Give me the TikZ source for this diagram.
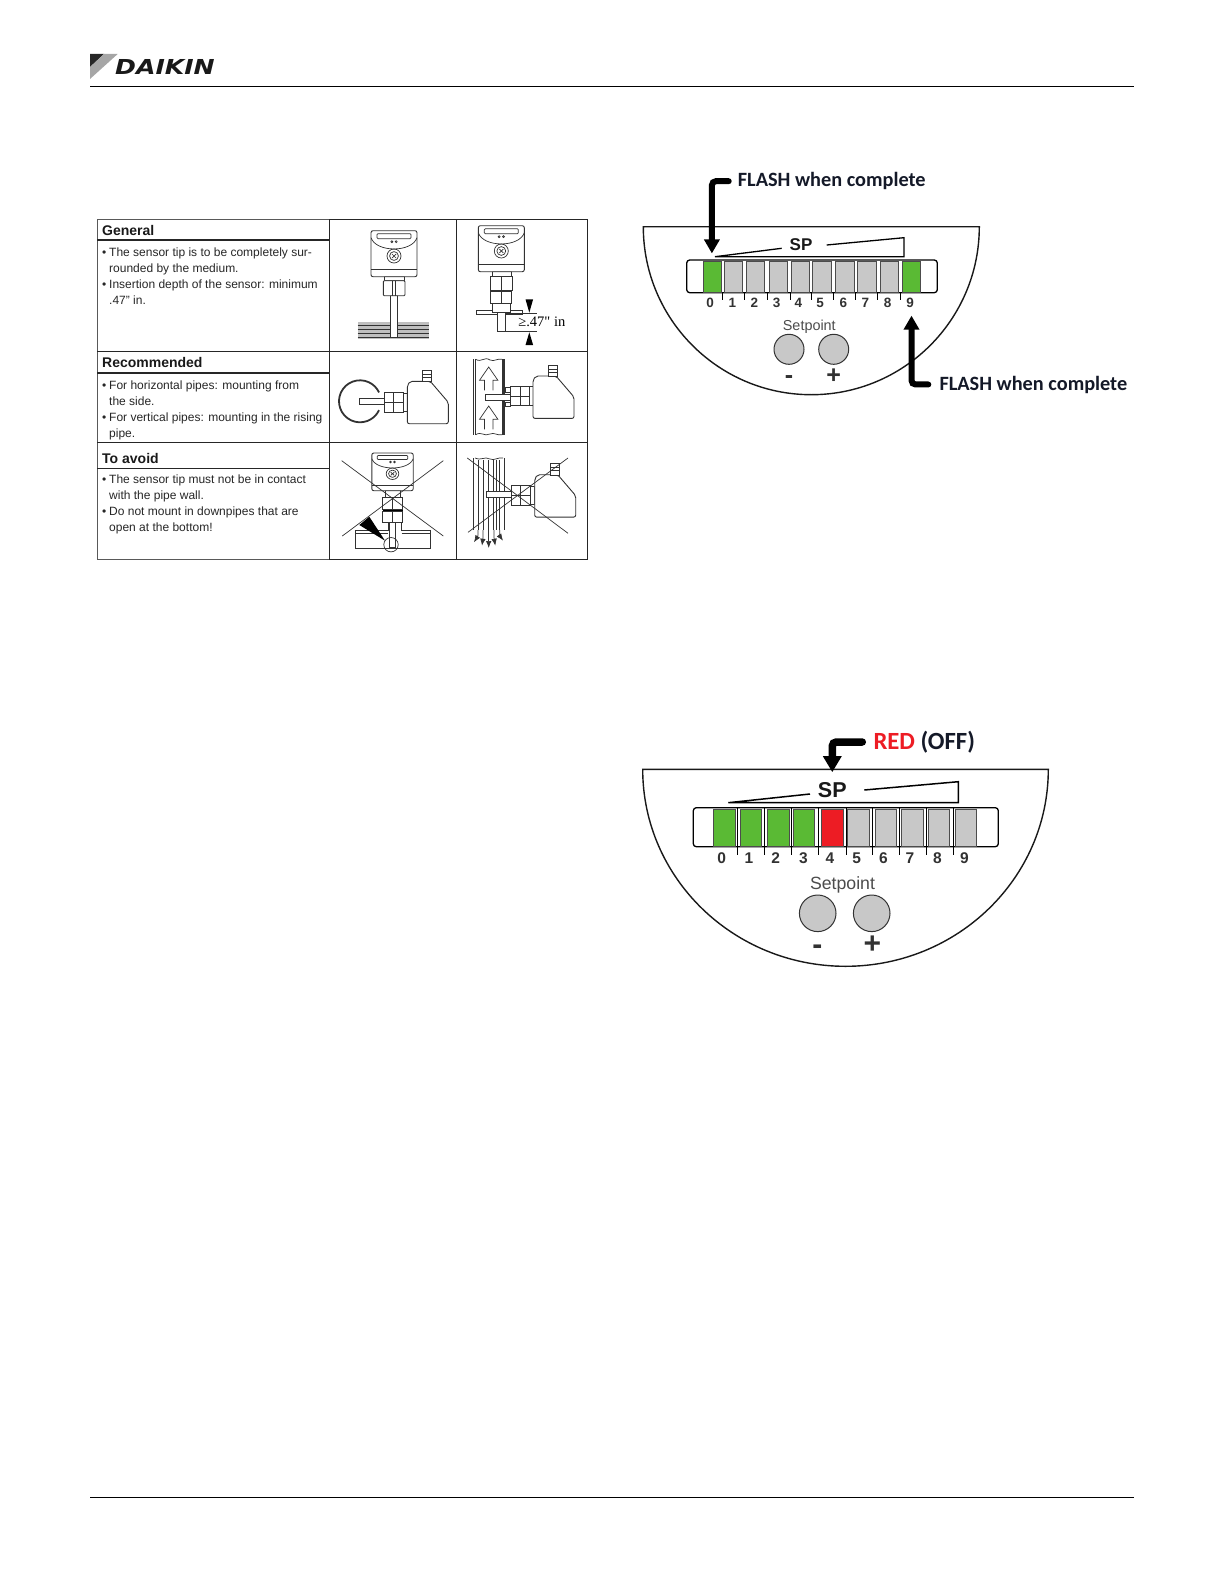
\documentclass[tikz,border=0pt]{standalone}
\usepackage{fontspec}
\setmainfont{Liberation Sans}
\newfontfamily\calfont{Carlito}
\newfontfamily\serfont{Liberation Serif}
\newfontfamily\logofont{DejaVu Sans}
\usetikzlibrary{arrows.meta,positioning}
\definecolor{lampgreen}{RGB}{90,186,52}
\definecolor{lampgray}{RGB}{200,200,200}
\definecolor{lampred}{RGB}{237,28,36}
\definecolor{inkgray}{RGB}{50,50,50}
\definecolor{offnavy}{RGB}{20,25,40}
\newcommand{\bul}{\makebox[7pt][l]{\textbullet}}
\newcommand{\cont}{\hspace*{7pt}}

\begin{document}
\begin{tikzpicture}[
  x=1pt, y=-1pt,
  font=\sffamily,
  rule/.style={draw=black, line width=0.8pt},
  grid/.style={draw=black!85, line width=1.2pt},
  part/.style={draw=inkgray, line width=0.9pt, fill=white},
  thinpart/.style={draw=inkgray, line width=0.7pt},
  crossline/.style={draw=inkgray, line width=0.7pt},
  title/.style={font=\fontsize{14}{16}\selectfont\bfseries, text=black!90, inner sep=0pt, anchor=base west},
  body/.style={font=\fontsize{12}{16}\selectfont, text=black!85, align=left, inner sep=0pt, anchor=north west},
  lampA/.style={draw=black!70, line width=0.4pt, minimum width=18.3pt, minimum height=30.3pt, inner sep=0pt},
  lampB/.style={draw=black!70, line width=0.4pt, minimum width=21.5pt, minimum height=36.7pt, inner sep=0pt},
  digitA/.style={font=\fontsize{13.5}{14}\selectfont\bfseries, text=inkgray, inner sep=0pt},
  digitB/.style={font=\fontsize{15.5}{16}\selectfont\bfseries, text=inkgray, inner sep=0pt},
  bar/.style={draw=black, line width=1.3pt, rounded corners=3pt, fill=white},
  tick/.style={draw=black, line width=1pt},
  face/.style={draw=black!90, line width=1.4pt, fill=white},
  btn/.style={circle, draw=black!80, line width=1pt, fill=lampgray, inner sep=0pt},
  callout/.style={draw=black, line width=6pt, line cap=round, rounded corners=4pt, -{Triangle[length=14pt,width=15pt]}},
  note/.style={font=\calfont\bfseries\fontsize{20.3}{24}\selectfont, text=offnavy, inner sep=0pt, anchor=base west},
  head/.pic={
    \draw[part, rounded corners=2pt] (-23,0) rectangle (23,46);
    \draw[thinpart] (-23,7) .. controls (-18,22) and (18,22) .. (23,7);
    \draw[thinpart] (-23,39) -- (23,39);
    \draw[thinpart, rounded corners=1pt] (-17,3) rectangle (17,8);
    \draw[thinpart] (-2.2,11) circle[radius=1] (2.2,11) circle[radius=1];
    \draw[thinpart] (0,25.3) circle[radius=7] (0,25.3) circle[radius=4.4];
    \draw[thinpart] (-2,23.3) -- (2,27.3) (2,23.3) -- (-2,27.3);
  },
  unit/.pic={
    \draw[part, rounded corners=2pt] (0,4) -- (3,0) -- (23,0) -- (41,21) -- (41,42.4) -- (0,42.4) -- cycle;
    \draw[part] (15.5,-11) rectangle (24.5,0.5);
    \draw[thinpart] (15.5,-7) -- (24.5,-7) (15.5,-4) -- (24.5,-4);
  },
  fitting/.pic={
    \draw[part] (19,0.5) rectangle (23,19);
    \draw[part] (0,0) rectangle (19,19.5);
    \draw[thinpart] (9.5,0) -- (9.5,19.5) (0,9.7) -- (19,9.7);
  },
  flowup/.pic={
    \draw[thinpart] (-4.2,23.3) -- (-4.2,13.3) -- (-9.2,13.3) -- (0,0) -- (9.2,13.3) -- (4.2,13.3) -- (4.2,23.3);
  }
]
\useasboundingbox (0,0) rectangle (1224,1584);

% Header and footer
\fill[black!85] (90,54) -- (104,54) -- (90,67) -- cycle;
\fill[black!35] (104,54) -- (117.7,54) -- (90,79) -- (90,67) -- cycle;
\node[font=\logofont\fontsize{20.6}{24}\selectfont\bfseries\itshape, text=black!90, inner sep=0pt, anchor=base west, xscale=1.22] (brand) at (115,74.5) {DAIKIN};
\draw[rule] (90,86) -- (1134,86);
\draw[rule] (90,1497) -- (1134,1497);

% Table frame
\draw[grid, draw=black!65, line width=1pt] (97,219.3) rectangle (329.3,559.3);
\draw[grid] (329.3,219.3) -- (587.7,219.3) -- (587.7,559.3) -- (329.3,559.3) -- cycle;
\draw[grid] (456.7,219.3) -- (456.7,559.3);
\draw[grid] (97,351.7) -- (587.7,351.7);
\draw[grid] (97,442.7) -- (587.7,442.7);
\draw[grid] (97,240) -- (329.3,240);
\draw[grid] (97,373) -- (329.3,373);
\draw[grid, line width=0.8pt] (97,468) -- (329.3,468);

% Table text
\node[title] (general) at (102,235) {General};
\node[body] (generaltext) at (102,248) {\bul The sensor tip is to be completely sur-\\\cont rounded by the medium.\\\bul Insertion depth of the sensor: minimum\\\cont .47" in.};
\node[title] (recommended) at (102,367.7) {Recommended};
\node[body] (recommendedtext) at (102,381) {\bul For horizontal pipes: mounting from\\\cont the side.\\\bul For vertical pipes: mounting in the rising\\\cont pipe.};
\node[title] (avoid) at (102,463) {To avoid};
\node[body] (avoidtext) at (102,475) {\bul The sensor tip must not be in contact\\\cont with the pipe wall.\\\bul Do not mount in downpipes that are\\\cont open at the bottom!};

% General: sensor in medium
\fill[black!25] (357.7,321.7) rectangle (429,339.3);
\draw[thinpart, line width=0.8pt] (357.7,325.7) -- (429,325.7) (357.7,329) -- (429,329) (357.7,333.3) -- (429,333.3) (357.7,337.7) -- (429,337.7);
\draw[part] (390.7,295.7) rectangle (397.3,337.3);
\draw[part] (384,276.7) rectangle (404,280.7);
\draw[part, rounded corners=1pt] (383.3,280.7) rectangle (405,295.7);
\draw[thinpart] (392.5,280.7) -- (392.5,295.7) (395.5,280.7) -- (395.5,295.7);
\pic at (394,230.7) {head};

% General: insertion depth
\draw[part] (476.7,310) rectangle (522.3,314);
\draw[part] (497.7,312) rectangle (505,331.7);
\draw[part] (492,303) rectangle (510.5,312);
\draw[part] (490.7,291) rectangle (511.7,303.3);
\draw[part] (490,276.7) rectangle (512.7,290);
\draw[thinpart] (501.3,276.7) -- (501.3,303.3);
\draw[part] (492.7,271.7) rectangle (511.7,276.7);
\pic at (501.3,225.7) {head};
\draw[thinpart] (505,313.3) -- (536.7,313.3) (497.7,331.7) -- (536.7,331.7);
\fill[black] (525.5,299.3) -- (533.1,299.3) -- (529.3,312.7) -- cycle;
\fill[black] (525.5,345) -- (533.1,345) -- (529.3,332.3) -- cycle;
\node[font=\serfont\fontsize{14.5}{16}\selectfont, fill=white, inner sep=0.5pt, anchor=base west] (depth) at (517.7,326) {≥.47" in};

% Recommended: horizontal pipe
\draw[part, fill=none, line width=1.8pt] (360,401.3) ++(25:21) arc[start angle=25, end angle=335, radius=21];
\draw[part] (359,398.7) rectangle (385,404.7);
\pic at (384.3,392.7) {fitting};
\pic at (407.3,381.3) {unit};

% Recommended: rising pipe
\draw[part, line width=1.2pt] (473.5,359.3) -- (473.5,434.7) (504,359.3) -- (504,434.7);
\draw[thinpart] (475.5,359.3) -- (475.5,434.7) (502,359.3) -- (502,434.7);
\draw[thinpart] (475.5,359.3) .. controls (482,363) and (484,356) .. (490,360) .. controls (494,362) and (498,358) .. (502,359.3);
\draw[thinpart] (475.5,434.7) .. controls (482,431) and (484,437) .. (490,434) .. controls (494,432) and (498,436) .. (502,434.7);
\pic at (488.7,367) {flowup};
\pic at (488.7,406) {flowup};
\draw[part] (485.7,394.3) rectangle (511.3,400.7);
\draw[part] (505.7,387.7) rectangle (510.7,392);
\draw[part] (505.7,402) rectangle (510.7,406.3);
\pic at (510.7,386.3) {fitting};
\pic at (533,376) {unit};

% To avoid: tip on pipe wall
\draw[part] (388.3,522.3) -- (388.3,530) -- (355,530) -- (355,548.3) -- (430,548.3) -- (430,530) -- (401.7,530) -- (401.7,522.3);
\draw[thinpart] (355,533.3) -- (388.3,533.3) (401.7,533.3) -- (430,533.3);
\draw[part] (389,522.3) rectangle (395.7,547.3);
\draw[part] (382.7,511.7) rectangle (402.7,522.3);
\draw[part] (382.7,497.3) rectangle (402.7,509.7);
\draw[thinpart] (392.5,497.3) -- (392.5,522.3);
\draw[draw=black, line width=1.6pt] (382.7,510.5) -- (402.7,510.5);
\draw[part] (385,490.7) rectangle (400,497.3);
\pic[yscale=0.82, xscale=0.9] at (392.5,453) {head};
\draw[thinpart] (391,544.7) circle[radius=7.2];
\fill[black] (359.3,525) -- (369.3,516.7) -- (385,540.7) -- cycle;
\draw[crossline] (341.7,460.7) -- (443.3,536) (443.3,460.7) -- (342.3,536);

% To avoid: open downpipe
\draw[part, line width=1.2pt] (473.5,458) -- (473.5,530) (504.5,458) -- (504.5,530);
\draw[thinpart] (478.7,460) -- (478.7,530) (483,460) -- (483,530) (488.7,460) -- (488.7,530) (493,460) -- (493,530) (496.3,460) -- (496.3,530) (499.7,460) -- (499.7,530);
\draw[thinpart] (475,458) .. controls (482,461) and (484,456) .. (490,459) .. controls (494,461) and (498,457) .. (503,458);
\draw[thinpart, -{Latex[length=7pt,width=5.5pt]}] (478,530) .. controls (478,536) .. (474,542.3);
\draw[thinpart, -{Latex[length=7pt,width=5.5pt]}] (483,530) .. controls (483,538) .. (482,545.7);
\draw[thinpart, -{Latex[length=7pt,width=5.5pt]}] (488.7,530) -- (488.7,548);
\draw[thinpart, -{Latex[length=7pt,width=5.5pt]}] (494,530) .. controls (494,538) .. (495.3,545.7);
\draw[thinpart, -{Latex[length=7pt,width=5.5pt]}] (499.7,530) .. controls (499.7,536) .. (503,540.7);
\draw[part] (486.3,491.7) rectangle (512,497.3);
\pic at (511.3,485.7) {fitting};
\pic at (534.7,474.7) {unit};
\draw[crossline] (467.3,458) -- (568,533.3) (568,458) -- (468,532.3);

% First display
\draw[face] (979.3,226.7) arc[start angle=0, end angle=180, radius=168] -- cycle;
\draw[bar] (686.7,260) rectangle (937.3,292.7);
\node[lampA, fill=lampgreen] (lampA0) at (711.9,276.8) {};
\node[lampA, fill=lampgray] (lampA1) at (733.3,276.8) {};
\node[lampA, fill=lampgray] (lampA2) at (755.5,276.8) {};
\node[lampA, fill=lampgray] (lampA3) at (778,276.8) {};
\node[lampA, fill=lampgray] (lampA4) at (800.3,276.8) {};
\node[lampA, fill=lampgray] (lampA5) at (821.7,276.8) {};
\node[lampA, fill=lampgray] (lampA6) at (844.8,276.8) {};
\node[lampA, fill=lampgray] (lampA7) at (866.7,276.8) {};
\node[lampA, fill=lampgray] (lampA8) at (889.3,276.8) {};
\node[lampA, fill=lampgreen] (lampA9) at (911.3,276.8) {};
\foreach \tx in {722.3,744.3,767,790,811.7,833.3,855.7,877.7,900.7}
  \draw[tick] (\tx,292.7) -- (\tx,300);
\node[digitA, anchor=base] (digA0) at (710,307.3) {0};
\node[digitA, anchor=base] (digA1) at (732.3,307.3) {1};
\node[digitA, anchor=base] (digA2) at (754.3,307.3) {2};
\node[digitA, anchor=base] (digA3) at (776.7,307.3) {3};
\node[digitA, anchor=base] (digA4) at (798.3,307.3) {4};
\node[digitA, anchor=base] (digA5) at (820,307.3) {5};
\node[digitA, anchor=base] (digA6) at (843.3,307.3) {6};
\node[digitA, anchor=base] (digA7) at (865.3,307.3) {7};
\node[digitA, anchor=base] (digA8) at (887.7,307.3) {8};
\node[digitA, anchor=base] (digA9) at (910,307.3) {9};
\draw[draw=black, line width=1.3pt] (781.7,248.3) -- (715,256.7) -- (904,256.7) -- (904,237.7) -- (826.7,245);
\node[font=\fontsize{17}{18}\selectfont\bfseries, text=black!90, inner sep=0pt] (spA) at (801,245) {SP};
\node[font=\fontsize{14.4}{16}\selectfont, text=black!70, inner sep=0pt, anchor=base] (setA) at (809.3,330) {Setpoint};
\node[btn, minimum size=30pt] (minusA) at (789,349.3) {};
\node[btn, minimum size=30pt] (plusA) at (833.7,349.3) {};
\node[font=\fontsize{25}{26}\selectfont\bfseries, text=inkgray, inner sep=0pt] (signminusA) at (789,380) {-};
\node[font=\fontsize{25}{26}\selectfont\bfseries, text=inkgray, inner sep=0pt] (signplusA) at (833.7,376) {+};
\node[note] (flashA) at (737.7,186.7) {FLASH when complete};
\node[note] (flashB) at (939.3,390) {FLASH when complete};
\draw[callout] ([xshift=-9pt]flashA.west) -| ([yshift=8pt]lampA0.north);
\draw[callout] ([xshift=-11pt]flashB.west) -| ([xshift=1.5pt,yshift=-8pt]digA9.south);

% Second display
\draw[face] (1048.3,769.3) arc[start angle=0, end angle=180, x radius=202.8, y radius=197] -- cycle;
\draw[bar] (693.3,807.7) rectangle (998.3,846.7);
\node[lampB, fill=lampgreen] (lampB0) at (724.2,827.7) {};
\node[lampB, fill=lampgreen] (lampB1) at (750.8,827.7) {};
\node[lampB, fill=lampgreen] (lampB2) at (778.3,827.7) {};
\node[lampB, fill=lampgreen] (lampB3) at (803.8,827.7) {};
\node[lampB, fill=lampred] (lampB4) at (832,827.7) {};
\node[lampB, fill=lampgray] (lampB5) at (858.3,827.7) {};
\node[lampB, fill=lampgray] (lampB6) at (885.8,827.7) {};
\node[lampB, fill=lampgray] (lampB7) at (912.2,827.7) {};
\node[lampB, fill=lampgray] (lampB8) at (938.8,827.7) {};
\node[lampB, fill=lampgray] (lampB9) at (965.8,827.7) {};
\foreach \tx in {737.3,764.3,791.7,818.3,846,872.7,899.3,926,953.3}
  \draw[tick] (\tx,807.7) -- (\tx,855);
\node[digitB, anchor=base] (digB0) at (721.7,863.3) {0};
\node[digitB, anchor=base] (digB1) at (749,863.3) {1};
\node[digitB, anchor=base] (digB2) at (775.7,863.3) {2};
\node[digitB, anchor=base] (digB3) at (803.3,863.3) {3};
\node[digitB, anchor=base] (digB4) at (830,863.3) {4};
\node[digitB, anchor=base] (digB5) at (856.7,863.3) {5};
\node[digitB, anchor=base] (digB6) at (883.3,863.3) {6};
\node[digitB, anchor=base] (digB7) at (910,863.3) {7};
\node[digitB, anchor=base] (digB8) at (937.3,863.3) {8};
\node[digitB, anchor=base] (digB9) at (964.3,863.3) {9};
\draw[draw=black, line width=1.5pt] (810,794) -- (728.3,802.7) -- (958.3,802.7) -- (958.3,781.7) -- (864.3,790);
\node[font=\fontsize{21.5}{24}\selectfont\bfseries, text=black!90, inner sep=0pt] (spB) at (832.3,790) {SP};
\node[font=\fontsize{17.7}{20}\selectfont, text=black!70, inner sep=0pt, anchor=base] (setB) at (842.5,889.3) {Setpoint};
\node[btn, minimum size=36.6pt] (minusB) at (817.7,913.3) {};
\node[btn, minimum size=36.6pt] (plusB) at (871.7,913.3) {};
\node[font=\fontsize{30}{32}\selectfont\bfseries, text=inkgray, inner sep=0pt] (signminusB) at (817.3,950) {-};
\node[font=\fontsize{30}{32}\selectfont\bfseries, text=inkgray, inner sep=0pt] (signplusB) at (872.3,945) {+};
\node[note, font=\calfont\bfseries\fontsize{24.7}{28}\selectfont] (redoff) at (873.3,749.3) {\textcolor{lampred}{RED} (OFF)};
\draw[callout, line width=7.5pt, -{Triangle[length=16pt,width=17.7pt]}] ([xshift=-11pt]redoff.west) -| ([yshift=10pt]spB.north);

\end{tikzpicture}
\end{document}
